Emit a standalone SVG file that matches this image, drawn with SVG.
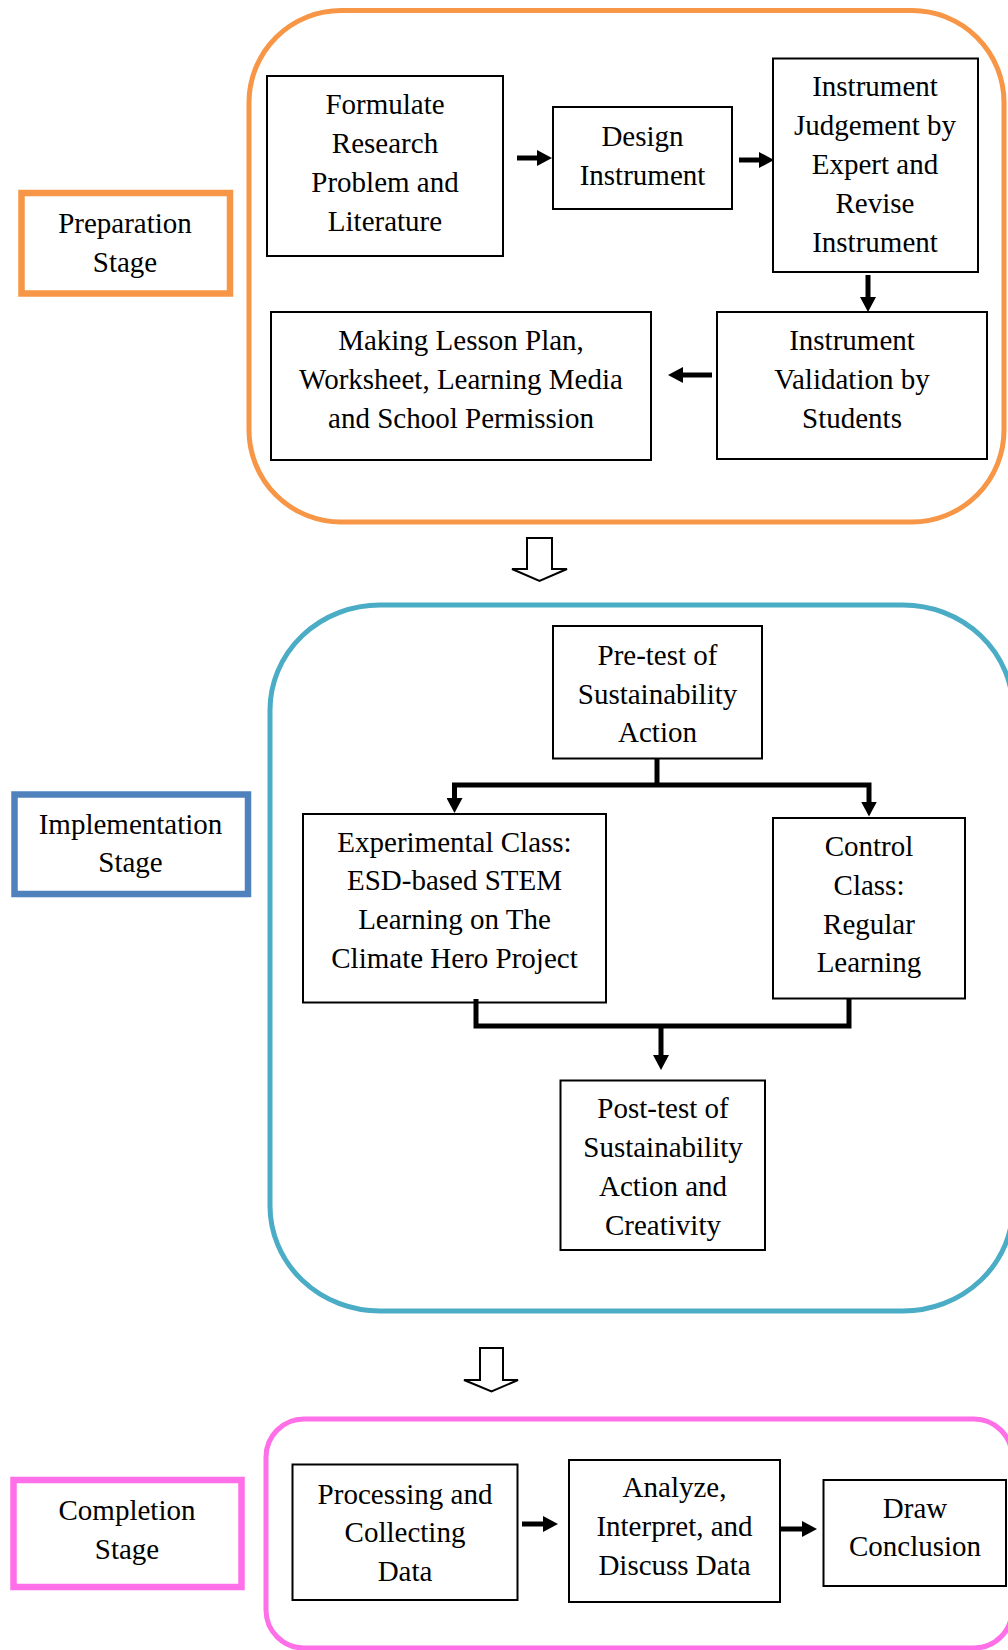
<svg xmlns="http://www.w3.org/2000/svg" width="1008" height="1650" viewBox="0 0 1008 1650">
<style>
text{font-family:"Liberation Serif","Times New Roman",serif;font-size:29px;fill:#000;text-anchor:middle}
.box{fill:#fff;stroke:#000;stroke-width:2}
.stage{fill:none;stroke-width:5}
.lbl{fill:#fff;stroke-width:6.5}
.con{fill:none;stroke:#000;stroke-width:5}
.hollow{fill:#fff;stroke:#000;stroke-width:2;stroke-linejoin:miter}
</style>
<defs>
<marker id="ah" markerUnits="userSpaceOnUse" markerWidth="16" markerHeight="16" refX="1" refY="8" orient="auto">
<path d="M0,0 L15,8 L0,16 z" fill="#000"/>
</marker>
</defs>

<g id="stage-frames">
<rect id="prep-frame" class="stage" x="249" y="10.5" width="755" height="511.5" rx="92" ry="92" stroke="#F79646"/>
<rect id="impl-frame" class="stage" x="270" y="605" width="743" height="706" rx="110" ry="105" stroke="#4BACC6"/>
<rect id="comp-frame" class="stage" x="266" y="1419" width="746" height="229" rx="38" ry="38" stroke="#FF70E8"/>
</g>

<g id="preparation-stage">
<rect class="lbl" x="21.5" y="193" width="208.5" height="100.5" stroke="#F79646"/>
<text x="125" y="233">Preparation</text>
<text x="125" y="272">Stage</text>
</g>

<g id="formulate">
<rect class="box" x="267" y="76" width="236" height="180"/>
<text x="385" y="114">Formulate</text>
<text x="385" y="153">Research</text>
<text x="385" y="192">Problem and</text>
<text x="385" y="231">Literature</text>
</g>

<g id="design">
<rect class="box" x="553" y="107" width="179" height="102"/>
<text x="642.5" y="146">Design</text>
<text x="642.5" y="185">Instrument</text>
</g>

<g id="judgement">
<rect class="box" x="773" y="58.5" width="205" height="213.5"/>
<text x="875" y="96">Instrument</text>
<text x="875" y="135">Judgement by</text>
<text x="875" y="174">Expert and</text>
<text x="875" y="213">Revise</text>
<text x="875" y="252">Instrument</text>
</g>

<g id="validation">
<rect class="box" x="717" y="312" width="270" height="147"/>
<text x="852" y="349.5">Instrument</text>
<text x="852" y="388.5">Validation by</text>
<text x="852" y="427.5">Students</text>
</g>

<g id="lesson-plan">
<rect class="box" x="271" y="312" width="380" height="148"/>
<text x="461" y="349.5">Making Lesson Plan,</text>
<text x="461" y="388.5">Worksheet, Learning Media</text>
<text x="461" y="427.5">and School Permission</text>
</g>

<g id="implementation-stage">
<rect class="lbl" x="14.5" y="794.5" width="233.5" height="99.5" stroke="#4F81BD"/>
<text x="130.5" y="833.5">Implementation</text>
<text x="130.5" y="872">Stage</text>
</g>

<g id="pretest">
<rect class="box" x="553" y="626" width="209" height="132.5"/>
<text x="657.5" y="665">Pre-test of</text>
<text x="657.5" y="704">Sustainability</text>
<text x="657.5" y="742">Action</text>
</g>

<g id="experimental">
<rect class="box" x="303" y="814" width="303" height="188.5"/>
<text x="454.5" y="851.5">Experimental Class:</text>
<text x="454.5" y="890">ESD-based STEM</text>
<text x="454.5" y="929">Learning on The</text>
<text x="454.5" y="967.5">Climate Hero Project</text>
</g>

<g id="control">
<rect class="box" x="773" y="818" width="192" height="180.5"/>
<text x="869" y="856">Control</text>
<text x="869" y="895">Class:</text>
<text x="869" y="933.5">Regular</text>
<text x="869" y="971.5">Learning</text>
</g>

<g id="posttest">
<rect class="box" x="560.5" y="1080.5" width="204.5" height="169.5"/>
<text x="663" y="1118">Post-test of</text>
<text x="663" y="1157">Sustainability</text>
<text x="663" y="1195.5">Action and</text>
<text x="663" y="1234.5">Creativity</text>
</g>

<g id="completion-stage">
<rect class="lbl" x="13.5" y="1480" width="228" height="107" stroke="#FF70E8"/>
<text x="127" y="1520">Completion</text>
<text x="127" y="1559">Stage</text>
</g>

<g id="processing">
<rect class="box" x="292.5" y="1464.5" width="225" height="135.5"/>
<text x="405" y="1503.5">Processing and</text>
<text x="405" y="1542">Collecting</text>
<text x="405" y="1580.5">Data</text>
</g>

<g id="analyze">
<rect class="box" x="569" y="1460" width="211" height="142"/>
<text x="674.5" y="1497">Analyze,</text>
<text x="674.5" y="1536">Interpret, and</text>
<text x="674.5" y="1575">Discuss Data</text>
</g>

<g id="conclusion">
<rect class="box" x="823.5" y="1480" width="182.5" height="106"/>
<text x="915" y="1518">Draw</text>
<text x="915" y="1556">Conclusion</text>
</g>

<g id="connectors">
<path class="con" d="M517,158 H538" marker-end="url(#ah)"/>
<path class="con" d="M739,160 H760" marker-end="url(#ah)"/>
<path class="con" d="M868,275 V298" marker-end="url(#ah)"/>
<path class="con" d="M712,375 H682" marker-end="url(#ah)"/>
<path class="hollow" d="M527,538 H552 V569 H567 L539.5,581 L512,569 H527 Z"/>
<path class="con" d="M657,758 V785"/>
<path class="con" d="M657,785 H454.5 V799" marker-end="url(#ah)"/>
<path class="con" d="M657,785 H869 V802.5" marker-end="url(#ah)"/>
<path class="con" d="M476,999 V1026 H849 V999"/>
<path class="con" d="M661,1026 V1056" marker-end="url(#ah)"/>
<path class="hollow" d="M480,1348 H503 V1380 H518 L491.5,1391.5 L464,1380 H480 Z"/>
<path class="con" d="M522,1524 H544" marker-end="url(#ah)"/>
<path class="con" d="M781,1529 H803" marker-end="url(#ah)"/>
</g>
</svg>
